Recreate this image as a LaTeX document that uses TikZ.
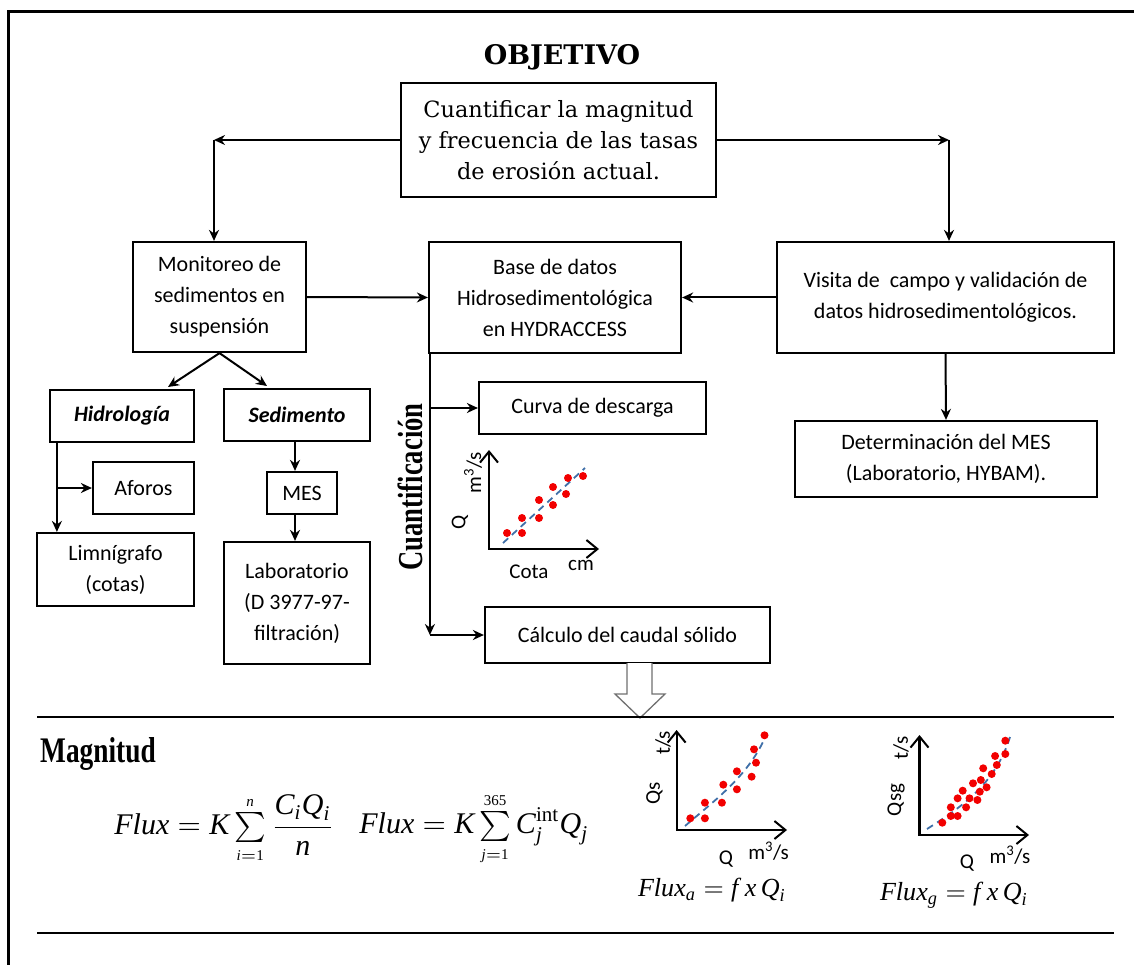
\documentclass[tikz,border=0pt]{standalone}
\usepackage{amsmath}
\usepackage{fontspec}
\newfontfamily\calib{Carlito}
\newfontfamily\dserif{DejaVu Serif}
\newfontfamily\tms{Liberation Serif}
\newfontfamily\cond{Liberation Serif}[FakeStretch=0.76]
\newcommand\mi[1]{\text{\tms\itshape #1}}
\newcommand\mr[1]{\text{\tms #1}}
\usetikzlibrary{arrows.meta}
\definecolor{dashblue}{HTML}{3F6FA8}
\definecolor{dotred}{HTML}{F20000}
\definecolor{hollow}{HTML}{707070}
\tikzset{
  box/.style={draw, line width=2.2pt, align=center, inner sep=0pt,
              font=\calib\fontsize{22}{31}\selectfont},
  arr/.style={line width=2pt, -{Stealth[length=11pt,width=10pt]}},
  axes/.style={line width=2.2pt, {Straight Barb[length=11pt,width=18pt,line width=2pt]}-{Straight Barb[length=11pt,width=18pt,line width=2pt]}},
  fit/.style={dashblue, line width=1.8pt, dash pattern=on 7pt off 5pt},
  lbl/.style={font=\calib\fontsize{21}{24}\selectfont, inner sep=0pt},
  formula/.style={font=\tms\fontsize{10}{12}\selectfont, inner sep=0pt, scale=3},
  rule/.style={line width=2pt}
}
\begin{document}
\begin{tikzpicture}[x=1pt,y=-1pt]
\useasboundingbox (0,0) rectangle (1134,965);
% frame
\draw[line width=3pt] (8,965) -- (8,12) -- (1134,12);

% title
\node[font=\dserif\bfseries\fontsize{27}{30}\selectfont, anchor=base, inner sep=0pt] (obj) at (562,65) {OBJETIVO};

% boxes
\node[box, font=\dserif\fontsize{22.4}{31}\selectfont, minimum width=315pt, minimum height=114pt] (top) at (558.5,140)
  {Cuantificar la magnitud\\y frecuencia de las tasas\\de erosión actual.};
\node[box, minimum width=173pt, minimum height=110pt] (mon) at (219.5,297)
  {Monitoreo de\\sedimentos en\\suspensión};
\node[box, minimum width=252pt, minimum height=111pt] (base) at (555,297.5)
  {Base de datos\\Hidrosedimentológica\\en HYDRACCESS};
\node[box, minimum width=337pt, minimum height=111pt] (visita) at (945.5,297.5)
  {Visita de\ \ campo y validación de\\datos hidrosedimentológicos.};
\node[box, minimum width=302pt, minimum height=76pt] (det) at (946,459)
  {Determinación del MES\\(Laboratorio, HYBAM).};
\node[box, font=\calib\bfseries\itshape\fontsize{22}{31}\selectfont, minimum width=144pt, minimum height=52pt] (hidro) at (122,416) {Hidrología};
\node[box, font=\calib\bfseries\itshape\fontsize{22}{31}\selectfont, minimum width=146pt, minimum height=52pt] (sedim) at (297,415) {Sedimento};
\node[box, minimum width=101pt, minimum height=52pt] (aforos) at (143.5,488) {Aforos};
\node[box, minimum width=157pt, minimum height=73pt] (limn) at (115.5,569.5) {Limnígrafo\\(cotas)};
\node[box, minimum width=70pt, minimum height=42pt] (mes) at (302,493) {MES};
\node[box, minimum width=146pt, minimum height=122pt] (lab) at (297,603) {Laboratorio\\(D 3977-97-\\filtración)};
\node[box, minimum width=227pt, minimum height=52pt] (curva) at (592.5,408) {Curva de descarga};
\node[box, minimum width=285pt, minimum height=56pt] (calc) at (627.5,635) {Cálculo del caudal sólido};

% connectors from objective
\coordinate (tl) at (214,140);
\coordinate (tr) at (949,140);
\draw[arr] (top.west) -- (tl);
\draw[arr] (tl) -- (tl |- mon.north);
\draw[arr] (top.east) -- (tr);
\draw[arr] (tr) -- (tr |- visita.north);

\draw[arr] (mon.east) -- (base.west);
\draw[arr] (visita.west) -- (base.east);
\draw[arr] (visita.south) -- (det.north);

% monitoreo branches
\coordinate (ha) at (168,387);
\coordinate (sa) at (267,386);
\draw[arr] (mon.south) -- (ha);
\draw[arr] (mon.south) -- (sa);
\coordinate (hv) at ([xshift=8pt]hidro.south west);
\draw[arr] (hv) -- (hv |- limn.north);
\draw[arr] (hv |- aforos.west) -- (aforos.west);
\coordinate (sv) at ([xshift=-2pt]sedim.south);
\draw[arr] (sv) -- (sv |- mes.north);
\draw[arr] (sv |- mes.south) -- (sv |- lab.north);

% quantification branch
\coordinate (qv) at ([xshift=2pt]base.south west);
\draw[arr] (qv) -- (qv |- calc.west);
\draw[arr] (qv |- curva.west) -- (curva.west);
\draw[arr] (qv |- calc.west) -- (calc.west);
\node[rotate=90, anchor=base, inner sep=0pt, font=\cond\bfseries\fontsize{35}{36}\selectfont] (cuant) at (422,487) {Cuantificación};

% chart 1 (rating curve)
\coordinate (c1o) at (489,549);
\coordinate (c1y) at (489,450);
\coordinate (c1x) at (599,549);
\draw[axes] (c1y) -- (c1o) -- (c1x);
\draw[fit] (503,543) -- (585,468);
\foreach \p in {(507,533),(522,533),(522,518),(539,518),(539,500),(553,487),(553,505),(566,494),(568,478),(583,476)}
  \fill[dotred] \p circle (4pt);
\node[lbl, rotate=90] (c1q) at (460,522) {Q};
\node[lbl, rotate=90] (c1u) at (473,473) {m\textsuperscript{3}/s};
\node[lbl] (c1c) at (529,572) {Cota};
\node[lbl] (c1cm) at (581,565) {cm};

% hollow arrow
\draw[hollow, line width=1.3pt, fill=white] (627,663) -- (627,694) -- (615,694) -- (640,718) -- (665,694) -- (652,694) -- (652,663);

% rules
\draw[rule] (37,717) -- (1114,717);
\draw[rule] (37,933) -- (1114,933);

% magnitud
\node[anchor=base west, inner sep=0pt, font=\cond\bfseries\fontsize{36}{40}\selectfont] (mag) at (40,762) {Magnitud};

\node[formula] (f1) at (224.5,829)
  {$\mi{Flux} = \mi{K}\sum\limits_{\scriptscriptstyle\mi{i}=\mr{1}}^{\scriptscriptstyle\mi{n}}\dfrac{\mi{C}_{\mi{i}}\mi{Q}_{\mi{i}}}{\mi{n}}$};
\node[formula] (f2) at (474,829)
  {$\mi{Flux} = \mi{K}\sum\limits_{\scriptscriptstyle\mi{j}=\mr{1}}^{\scriptscriptstyle\mr{365}}\mi{C}_{\mi{j}}^{\mr{int}}\mi{Q}_{\mi{j}}$};

% chart 2 (Qs)
\coordinate (c2o) at (676.6,830);
\coordinate (c2y) at (676.6,730);
\coordinate (c2x) at (787,830);
\draw[axes] (c2y) -- (c2o) -- (c2x);
\draw[fit] (685,826) .. controls (715,800) and (750,775) .. (767,733);
\foreach \p in {(690.3,818.3),(704.9,818.3),(704.9,802.7),(721.9,802.7),(723.3,784.7),(736.9,789.3),(736.9,771.3),(751.6,776.7),(756,762.7),(754,749.3),(764.5,735.3)}
  \fill[dotred] \p circle (4pt);
\node[lbl, rotate=90] (c2qs) at (654.5,793) {Qs};
\node[lbl, rotate=90] (c2ts) at (663,743) {t/s};
\node[lbl] (c2q) at (726,859) {Q};
\node[lbl] (c2u) at (768.6,851) {m\textsuperscript{3}/s};
\node[formula, scale=0.87] (fa) at (712,890)
  {$\mi{Flux}_{\mi{a}} = \mi{f}\ \mi{x}\,\mi{Q}_{\mi{i}}$};

% chart 3 (Qsg)
\coordinate (c3o) at (919.5,835);
\coordinate (c3y) at (919.5,735);
\coordinate (c3x) at (1029,835);
\draw[axes] (c3y) -- (c3o) -- (c3x);
\draw[fit] (927,829) .. controls (960,808) and (995,785) .. (1010,737);
\foreach \p in {(942.3,822.7),(950.8,816),(957.6,816),(950.8,807.3),(957.6,798.3),(966.1,807.3),(962.7,790.7),(969.5,798.3),(977.4,800),(973,783.3),(979.8,791.7),(980.8,780),(986.6,787.3),(983.2,768.3),(991.7,774),(996.8,765),(995.1,756),(1005.3,754),(1005.3,740.7)}
  \fill[dotred] \p circle (4pt);
\node[lbl, rotate=90] (c3qs) at (896,800) {Qsg};
\node[lbl, rotate=90] (c3ts) at (901,748) {t/s};
\node[lbl] (c3q) at (967,863) {Q};
\node[lbl] (c3u) at (1010,855) {m\textsuperscript{3}/s};
\node[formula, scale=0.87] (fg) at (954,895)
  {$\mi{Flux}_{\mi{g}} = \mi{f}\ \mi{x}\,\mi{Q}_{\mi{i}}$};
\end{tikzpicture}
\end{document}
